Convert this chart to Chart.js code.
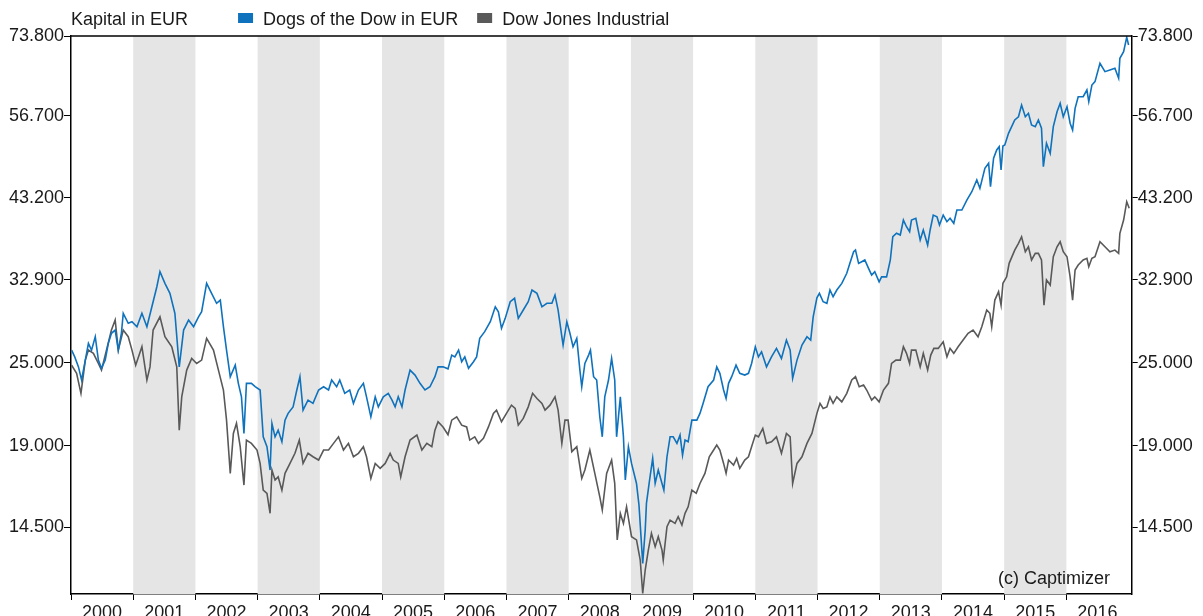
<!DOCTYPE html>
<html lang="de">
<head>
<meta charset="utf-8">
<title>Dogs of the Dow in EUR</title>
<script src="https://cdn.jsdelivr.net/npm/chart.js@4.4.1/dist/chart.umd.min.js"></script>
<style>
  body { margin: 0; background: #fff; }
  canvas { display: block; }
</style>
</head>
<body>
<canvas id="kapital" width="1203" height="616"></canvas>
<script>

// Zeitpunkte als Dezimaljahr, Werte in EUR
const dogsJahr = [
  2000.01, 2000.06, 2000.12, 2000.17, 2000.23, 2000.28, 2000.33, 2000.39, 2000.44, 2000.49, 2000.55, 2000.60, 2000.65, 2000.71, 2000.76, 2000.81, 2000.84, 2000.92, 2000.98,
  2001.06, 2001.14, 2001.22, 2001.30, 2001.38, 2001.43, 2001.51, 2001.59, 2001.67, 2001.74, 2001.81, 2001.89, 2001.97,
  2002.05, 2002.10, 2002.18, 2002.26, 2002.34, 2002.40, 2002.45, 2002.50, 2002.56, 2002.64, 2002.69, 2002.74, 2002.78, 2002.82, 2002.90, 2002.96,
  2003.04, 2003.09, 2003.15, 2003.20, 2003.23, 2003.28, 2003.33, 2003.39, 2003.44, 2003.49, 2003.57, 2003.63, 2003.68, 2003.73, 2003.81, 2003.89, 2003.98,
  2004.06, 2004.14, 2004.19, 2004.27, 2004.32, 2004.40, 2004.48, 2004.54, 2004.62, 2004.70, 2004.75, 2004.82, 2004.89, 2004.94,
  2005.02, 2005.10, 2005.16, 2005.21, 2005.26, 2005.32, 2005.37, 2005.45, 2005.53, 2005.61, 2005.69, 2005.77, 2005.85, 2005.90, 2005.98,
  2006.06, 2006.12, 2006.17, 2006.23, 2006.28, 2006.33, 2006.39, 2006.47, 2006.52, 2006.57, 2006.65, 2006.74, 2006.82, 2006.87, 2006.92, 2006.98,
  2007.06, 2007.13, 2007.19, 2007.27, 2007.35, 2007.41, 2007.49, 2007.57, 2007.65, 2007.73, 2007.78, 2007.83, 2007.89, 2007.91, 2007.97,
  2008.02, 2008.07, 2008.13, 2008.18, 2008.21, 2008.26, 2008.32, 2008.35, 2008.40, 2008.45, 2008.50, 2008.54, 2008.58, 2008.64, 2008.69, 2008.74, 2008.77, 2008.83, 2008.88, 2008.91, 2008.96,
  2009.01, 2009.09, 2009.13, 2009.19, 2009.23, 2009.25, 2009.30, 2009.35, 2009.39, 2009.44, 2009.50, 2009.53, 2009.58, 2009.63, 2009.68, 2009.74, 2009.79, 2009.83, 2009.87, 2009.92, 2009.98,
  2010.06, 2010.11, 2010.16, 2010.24, 2010.33, 2010.38, 2010.43, 2010.49, 2010.53, 2010.57, 2010.62, 2010.69, 2010.75, 2010.83, 2010.89, 2010.94,
  2011.00, 2011.05, 2011.10, 2011.18, 2011.26, 2011.34, 2011.42, 2011.50, 2011.56, 2011.60, 2011.67, 2011.75, 2011.83, 2011.89, 2011.93, 2011.99,
  2012.03, 2012.09, 2012.15, 2012.20, 2012.25, 2012.31, 2012.39, 2012.47, 2012.52, 2012.58, 2012.61, 2012.66, 2012.71, 2012.76, 2012.82, 2012.87, 2012.92, 2012.99,
  2013.03, 2013.11, 2013.17, 2013.21, 2013.27, 2013.33, 2013.38, 2013.43, 2013.48, 2013.51, 2013.58, 2013.65, 2013.70, 2013.77, 2013.81, 2013.86, 2013.92, 2013.96,
  2014.02, 2014.08, 2014.13, 2014.19, 2014.24, 2014.32, 2014.40, 2014.48, 2014.56, 2014.61, 2014.69, 2014.75, 2014.78, 2014.83, 2014.88, 2014.92, 2014.95, 2014.98,
  2015.01, 2015.07, 2015.17, 2015.23, 2015.28, 2015.34, 2015.39, 2015.44, 2015.50, 2015.55, 2015.60, 2015.63, 2015.68, 2015.74, 2015.79, 2015.85, 2015.90, 2015.95,
  2016.01, 2016.06, 2016.10, 2016.14, 2016.19, 2016.27, 2016.33, 2016.36, 2016.41, 2016.46, 2016.54, 2016.62, 2016.70, 2016.78, 2016.84, 2016.86, 2016.92, 2016.97, 2017.00
];
const dogsWert = [
  26070, 25490, 24660, 23610, 25220, 26660, 26070, 27250, 25220, 24540, 25220, 26660, 27560, 27860, 26070, 27560, 29450, 28490, 28640,
  28170, 29450, 28170, 30090, 32160, 33800, 32520, 31460, 29450, 24660, 27860, 28800, 28170,
  29110, 29600, 32520, 31460, 30440, 30770, 28170, 26070, 23870, 24800, 23350, 22330, 19780, 23350, 23350, 23100,
  22840, 19560, 18930, 17520, 20450, 19560, 20000, 19240, 20670, 21140, 21600, 22840, 23870, 21370, 22090, 21850, 22840,
  23090, 22840, 23610, 23090, 23610, 22590, 22840, 21850, 22840, 23350, 22330, 20900, 22330, 21600,
  22330, 22590, 22090, 21600, 22330, 21600, 22840, 24400, 24000, 23350, 22840, 23090, 23870, 24660, 24660,
  24500, 25640, 25490, 26070, 25080, 25490, 24540, 25080, 25490, 27100, 27710, 28640, 30090, 29600, 28020, 28960,
  30600, 30950, 28960, 29770, 30600, 31810, 31460, 30090, 30440, 30440, 31290, 29770, 27250, 26510, 28640,
  27560, 26360, 27100, 24400, 23090, 24940, 25640, 26070, 23870, 23610, 20900, 19560, 22330, 23610, 25360, 23610, 19560, 22330, 19560, 16950, 18930,
  17910, 16760, 15600, 12860, 14360, 15690, 16950, 18210, 16760, 17520, 16760, 16390, 18310, 19560, 19560, 19140, 19670, 18410, 19350, 19240, 20670,
  20670, 21140, 21850, 23090, 23610, 24660, 24140, 22840, 22210, 23350, 23870, 24800, 24140, 24000, 24140, 24940,
  26360, 25490, 25920, 24660, 25490, 26220, 25360, 26950, 26070, 23740, 25220, 26510, 27250, 26950, 29110, 31000,
  31460, 30600, 30440, 31810, 31110, 31810, 32520, 33620, 34750, 36110, 36310, 34750, 34940, 35140, 34180, 33420, 33800, 32690,
  33230, 33230, 35140, 37950, 38390, 38170, 40110, 39230, 38590, 40110, 40340, 37540, 38810, 36920, 38810, 40780, 40550, 39450,
  40780, 39890, 40340, 39680, 41460, 41460, 42860, 44060, 45800, 44550, 47610, 48410, 44790, 49220, 50590, 51140, 47350, 51260,
  51430, 53460, 55870, 56480, 58720, 56480, 57130, 54950, 54650, 55870, 54360, 47860, 51720, 50040, 54650, 57430, 59050, 56480,
  58390, 55270, 54050, 58080, 60350, 60350, 61710, 59370, 62740, 63440, 67430, 65580, 65950, 66320, 64150, 68550, 70070, 73490, 71630
];

const dowJahr = [
  2000.01, 2000.09, 2000.16, 2000.23, 2000.28, 2000.36, 2000.44, 2000.49, 2000.57, 2000.65, 2000.71, 2000.76, 2000.84, 2000.92, 2000.98,
  2001.04, 2001.14, 2001.22, 2001.27, 2001.32, 2001.43, 2001.51, 2001.62, 2001.70, 2001.74, 2001.78, 2001.86, 2001.94,
  2002.02, 2002.10, 2002.18, 2002.29, 2002.37, 2002.45, 2002.50, 2002.56, 2002.61, 2002.66, 2002.72, 2002.78, 2002.82, 2002.90, 2002.99,
  2003.04, 2003.09, 2003.15, 2003.20, 2003.23, 2003.28, 2003.33, 2003.39, 2003.44, 2003.52, 2003.60, 2003.67, 2003.73, 2003.81, 2003.89, 2003.98,
  2004.06, 2004.14, 2004.22, 2004.30, 2004.38, 2004.46, 2004.54, 2004.62, 2004.70, 2004.75, 2004.82, 2004.89, 2004.97,
  2005.05, 2005.13, 2005.18, 2005.26, 2005.30, 2005.37, 2005.45, 2005.56, 2005.64, 2005.72, 2005.80, 2005.85, 2005.90, 2005.98,
  2006.06, 2006.12, 2006.20, 2006.28, 2006.36, 2006.41, 2006.49, 2006.55, 2006.63, 2006.71, 2006.79, 2006.84, 2006.92,
  2007.00, 2007.08, 2007.14, 2007.19, 2007.27, 2007.35, 2007.42, 2007.49, 2007.57, 2007.62, 2007.70, 2007.78, 2007.83, 2007.89, 2007.94, 2007.99,
  2008.05, 2008.13, 2008.21, 2008.26, 2008.34, 2008.42, 2008.50, 2008.54, 2008.61, 2008.69, 2008.74, 2008.78, 2008.83, 2008.88, 2008.93,
  2009.01, 2009.09, 2009.15, 2009.19, 2009.23, 2009.28, 2009.33, 2009.39, 2009.44, 2009.50, 2009.52, 2009.58, 2009.63, 2009.71, 2009.76, 2009.82, 2009.87, 2009.92, 2009.98,
  2010.05, 2010.11, 2010.19, 2010.26, 2010.33, 2010.38, 2010.43, 2010.49, 2010.53, 2010.57, 2010.65, 2010.70, 2010.75, 2010.83, 2010.89, 2010.94,
  2011.00, 2011.05, 2011.12, 2011.18, 2011.26, 2011.34, 2011.42, 2011.50, 2011.56, 2011.60, 2011.67, 2011.75, 2011.83, 2011.91, 2011.99,
  2012.04, 2012.09, 2012.15, 2012.20, 2012.25, 2012.31, 2012.39, 2012.47, 2012.55, 2012.61, 2012.67, 2012.74, 2012.79, 2012.87, 2012.92, 2012.99,
  2013.06, 2013.14, 2013.19, 2013.26, 2013.33, 2013.38, 2013.43, 2013.48, 2013.51, 2013.58, 2013.65, 2013.70, 2013.77, 2013.82, 2013.87, 2013.94,
  2014.02, 2014.08, 2014.13, 2014.19, 2014.26, 2014.34, 2014.42, 2014.50, 2014.58, 2014.64, 2014.72, 2014.77, 2014.80, 2014.85, 2014.91, 2014.95, 2014.98,
  2015.04, 2015.08, 2015.17, 2015.23, 2015.28, 2015.34, 2015.39, 2015.44, 2015.50, 2015.55, 2015.60, 2015.64, 2015.68, 2015.74, 2015.79, 2015.85, 2015.90, 2015.95,
  2016.01, 2016.06, 2016.10, 2016.14, 2016.19, 2016.27, 2016.33, 2016.36, 2016.41, 2016.46, 2016.54, 2016.62, 2016.70, 2016.78, 2016.84, 2016.86, 2016.92, 2016.97, 2017.01
];
const dowWert = [
  24800, 24140, 22590, 25220, 26070, 25790, 24940, 24400, 26070, 27860, 28800, 26070, 27860, 27250, 26070,
  24800, 26360, 23610, 24660, 27860, 29110, 27250, 26360, 24660, 20000, 22330, 24400, 25360,
  24940, 25220, 27100, 26070, 24400, 22840, 20670, 17330, 19780, 20450, 18930, 16670, 19350, 19140, 18720,
  17910, 16390, 16220, 15180, 17520, 16950, 17130, 16390, 17330, 17910, 18520, 19350, 17910, 18520, 18310, 18110,
  18720, 18720, 19140, 19560, 18720, 19140, 18310, 18520, 18930, 18310, 17040, 17910, 17620,
  17910, 18520, 18110, 17910, 17130, 18310, 19350, 19670, 18720, 19140, 18930, 20000, 20560, 20210,
  19700, 20670, 20900, 20330, 20210, 19350, 19560, 19140, 19460, 20210, 21140, 21370, 20560,
  21140, 21720, 21490, 20330, 20790, 21600, 22590, 22210, 21850, 21370, 21720, 22330, 21370, 19140, 20670, 20670,
  18620, 18930, 17040, 17520, 18720, 17330, 16030, 15350, 17330, 18110, 16760, 13900, 15180, 14680, 15510,
  14050, 13900, 13000, 11640, 12580, 13440, 14210, 13590, 14050, 13440, 13000, 14520, 14840, 14680, 15010, 14600, 15180, 15510, 16390,
  16220, 16760, 17330, 18310, 18720, 19030, 18720, 17910, 17330, 18110, 17810, 18210, 17620, 18110, 18310, 18930,
  19670, 19560, 20110, 19140, 19240, 19560, 18520, 19780, 19560, 16760, 17910, 18310, 19140, 19780, 21140,
  21850, 21490, 21600, 22330, 21850, 22330, 21960, 22590, 23610, 23870, 23090, 23220, 22840, 22090, 22330, 21960,
  22840, 23350, 24940, 25220, 25220, 26360, 25790, 24940, 26070, 26070, 24660, 25790, 24400, 25640, 26220, 26220,
  26800, 25490, 26220, 25790, 26360, 26950, 27560, 27860, 27250, 28170, 29770, 29450, 28170, 30770, 31630, 30260, 32520,
  33230, 34750, 36310, 37130, 37950, 36110, 36710, 35140, 35920, 35920, 35140, 30260, 32900, 32340, 35520, 36710, 37330, 36110,
  35520, 33230, 30770, 33990, 34560, 35140, 35330, 34360, 35330, 35520, 37330, 36710, 36110, 36310, 35920, 38390, 40110, 42620, 41700
];

const yTicks = [14500, 19000, 25000, 32900, 43200, 56700, 73800];
const yMin = 11620;
const yMax = 73800;
const xJahre = [2000, 2001, 2002, 2003, 2004, 2005, 2006, 2007, 2008, 2009, 2010, 2011, 2012, 2013, 2014, 2015, 2016];
const grauJahre = [2001, 2003, 2005, 2007, 2009, 2011, 2013, 2015];
const xMin = 2000;
const xMax = 2017.05;

const schrift = '"Liberation Sans", Arial, Helvetica, sans-serif';
Chart.defaults.font.family = schrift;
Chart.defaults.font.size = 18;
Chart.defaults.color = '#1a1a1a';

function tausender(wert) {
    return String(Math.round(wert)).replace(/\B(?=(\d{3})+(?!\d))/g, '.');
}

// graue Streifen fuer ungerade Jahre
const streifen = {
    id: 'streifen',
    beforeDatasetsDraw(chart) {
        const { ctx, chartArea, scales } = chart;
        ctx.save();
        ctx.fillStyle = '#e5e5e5';
        grauJahre.forEach(j => {
            const x1 = scales.x.getPixelForValue(j);
            const x2 = scales.x.getPixelForValue(j + 1);
            ctx.fillRect(x1, chartArea.top, x2 - x1, chartArea.bottom - chartArea.top);
        });
        ctx.restore();
    }
};

// Rahmen oben, Legende und Copyright
const beschriftung = {
    id: 'beschriftung',
    afterDraw(chart) {
        const { ctx, chartArea } = chart;
        ctx.save();
        ctx.strokeStyle = '#000';
        ctx.lineWidth = 1.5;
        ctx.beginPath();
        ctx.moveTo(chartArea.left, chartArea.top);
        ctx.lineTo(chartArea.right, chartArea.top);
        ctx.stroke();

        ctx.font = '18px ' + schrift;
        ctx.fillStyle = '#1a1a1a';
        ctx.textBaseline = 'alphabetic';
        ctx.textAlign = 'left';
        ctx.fillText('Kapital in EUR', 71, 25);

        let x = 71 + ctx.measureText('Kapital in EUR').width + 50;
        chart.data.datasets.forEach(ds => {
            ctx.fillStyle = ds.borderColor;
            ctx.fillRect(x, 13, 15, 10);
            ctx.fillStyle = '#1a1a1a';
            ctx.fillText(ds.label, x + 25, 25);
            x += 25 + ctx.measureText(ds.label).width + 19;
        });

        ctx.textAlign = 'right';
        ctx.fillText('(c) Captimizer', 1110, 584);
        ctx.restore();
    }
};

function yAchse(position, breite, strich) {
    return {
        type: 'logarithmic',
        position: position,
        min: yMin,
        max: yMax,
        afterBuildTicks: s => { s.ticks = yTicks.map(v => ({ value: v })); },
        afterFit: s => { s.width = breite; },
        grid: { drawOnChartArea: false, color: '#000', tickLength: strich },
        border: { color: '#000', width: 1.5 },
        ticks: { padding: 0, callback: v => tausender(v) }
    };
}

new Chart(document.querySelector('#kapital'), {
    type: 'line',
    data: {
        datasets: [
            {
                label: 'Dogs of the Dow in EUR',
                data: dogsJahr.map((j, i) => ({ x: j, y: dogsWert[i] })),
                borderColor: '#0f72bd',
                borderWidth: 1.6,
                pointRadius: 0,
                yAxisID: 'y'
            },
            {
                label: 'Dow Jones Industrial',
                data: dowJahr.map((j, i) => ({ x: j, y: dowWert[i] })),
                borderColor: '#595959',
                borderWidth: 1.6,
                pointRadius: 0,
                yAxisID: 'y'
            }
        ]
    },
    options: {
        responsive: false,
        animation: false,
        devicePixelRatio: 1,
        layout: { padding: { top: 36, left: 0, right: 0, bottom: 0 } },
        plugins: {
            legend: { display: false },
            tooltip: { enabled: false }
        },
        scales: {
            x: {
                type: 'linear',
                min: xMin,
                max: xMax,
                afterBuildTicks: s => { s.ticks = xJahre.map(v => ({ value: v })); },
                afterFit: s => { s.height = 22; },
                grid: { drawOnChartArea: false, color: '#000', tickLength: 6 },
                border: { color: '#000', width: 1.5 },
                ticks: {
                    autoSkip: false,
                    maxRotation: 0,
                    padding: 2,
                    labelOffset: 31,
                    callback: v => String(v)
                }
            },
            y: yAchse('left', 71, 7),
            y2: yAchse('right', 71.3, 6)
        }
    },
    plugins: [streifen, beschriftung]
});

</script>
</body>
</html>
